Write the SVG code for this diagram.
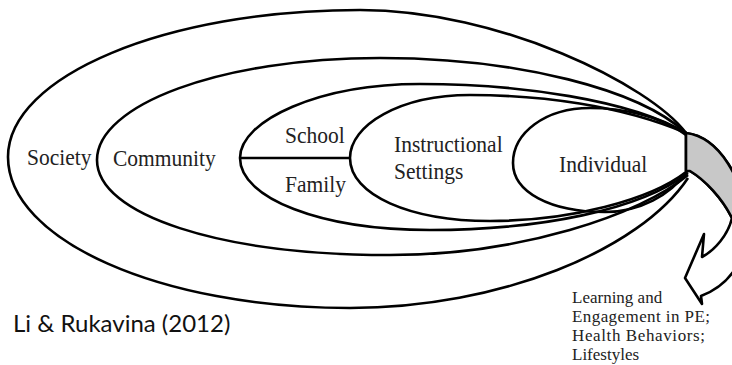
<svg xmlns="http://www.w3.org/2000/svg" width="732" height="365" viewBox="0 0 732 365">
<style>
.ring{fill:none;stroke:#000;stroke-width:2.6;stroke-linejoin:round}
.lbl{font-family:"Liberation Serif","Times New Roman",serif;font-size:21.5px;fill:#222}
.sm{font-family:"Liberation Serif","Times New Roman",serif;font-size:17px;fill:#222}
.cite{font-family:Lato,"Liberation Sans",sans-serif;font-size:24px;fill:#111}
</style>
<rect width="732" height="365" fill="#fff"/>
<g id="society">
<path class="ring" d="M686,133 C650,85 500,10 360,10 C166,10 8,76 8,157 C8,240 160,308 350,308 C500,308 640,250 688,178"/>
<text class="lbl" transform="translate(27,165) scale(1,1.1)">Society</text>
</g>
<g id="community">
<path class="ring" d="M686,133 C640,90 520,58 380,58 C220,58 97,105 97,160 C97,215 220,255 390,255 C520,255 640,215 688,175"/>
<text class="lbl" transform="translate(113,166) scale(1,1.1)">Community</text>
</g>
<g id="school-family">
<path class="ring" d="M686,133 C630,100 520,84 420,84 C320,84 240,120 240,158 C240,198 320,230 430,230 C540,230 640,210 688,173"/>
<line class="ring" x1="240" y1="158" x2="350" y2="158"/>
<text class="lbl" transform="translate(285,143) scale(1,1.1)">School</text>
<text class="lbl" transform="translate(285,192) scale(1,1.1)">Family</text>
</g>
<g id="instructional">
<path class="ring" d="M686,133 C620,105 540,95 470,95 C400,95 350,125 350,158 C350,195 410,221 490,221 C570,221 650,200 686,172"/>
<text class="lbl" transform="translate(394,152) scale(1,1.1)">Instructional</text>
<text class="lbl" transform="translate(394,179) scale(1,1.1)">Settings</text>
</g>
<g id="individual">
<path class="ring" d="M686,135 C660,115 620,108 590,108 C545,108 513,133 513,163 C513,192 550,212 605,212 C640,212 670,195 687,172"/>
<text class="lbl" transform="translate(559,172) scale(1,1.1)">Individual</text>
</g>
<g id="connectors">
<path class="ring" style="fill:#fff" d="M686,133 C718,137 746,178 746,230 C746,262 728,286 701,296 L702,304 L685,278 L704,234 L702,257 C715,250 728,235 732,218 C722,198 705,180 690,171 L686,171 Z"/>
<path d="M686,133 C718,137 746,178 746,230 L732,218 C722,198 705,180 690,171 L686,171 Z" fill="#c8c8c8" stroke="#000" stroke-width="2.6" stroke-linejoin="round"/>
</g>
<g id="outcome">
<text class="sm" x="572" y="303">Learning and</text>
<text class="sm" x="572" y="322" textLength="138">Engagement in PE;</text>
<text class="sm" x="572" y="341" textLength="133">Health Behaviors;</text>
<text class="sm" x="572" y="360">Lifestyles</text>
</g>
<text class="cite" x="13" y="332">Li &amp; Rukavina (2012)</text>
</svg>
